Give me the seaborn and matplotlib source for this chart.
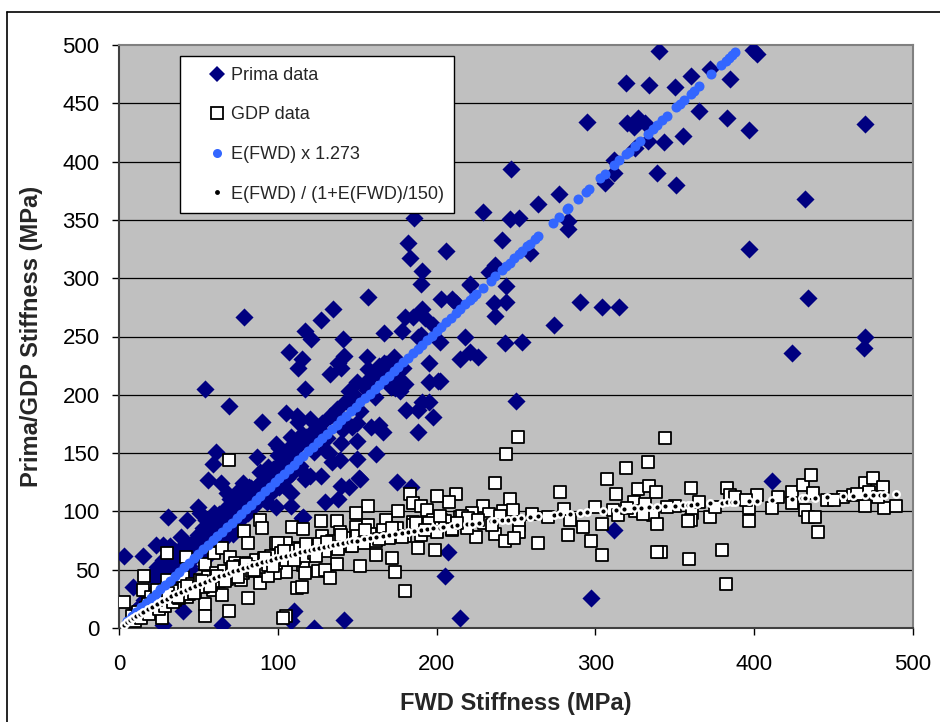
import matplotlib
matplotlib.use("Agg")
import matplotlib.pyplot as plt
import seaborn as sns
from matplotlib.lines import Line2D

# ---------------- data ----------------
prima_fwd = [340, 399, 402, 319, 334, 350, 360, 372, 385, 365, 383, 397, 470, 295, 320, 324, 327, 331,
             333, 343, 355, 325, 312, 312, 339, 351, 306, 247, 277, 264, 283, 283, 229, 246, 252, 241,
             206, 259, 233, 237, 221, 244, 203, 210, 212, 236, 244, 237, 290, 304, 315, 274, 218, 243,
             254, 221, 215, 226, 202, 250, 432, 397, 434, 424, 470, 469, 411, 312, 297,
             186, 182, 183, 191, 190, 157, 79, 135, 127, 117, 121, 141, 107, 115, 113, 142, 138, 140,
             133, 54, 69, 117, 156, 157, 167, 178, 180, 185, 191, 193, 188, 202, 164, 167, 172, 177,
             180, 150, 156, 145, 174, 177, 195, 195, 201, 191, 195, 181, 188, 198, 188, 221, 190, 198,
             179, 171,
             90, 105, 112, 113, 120, 115, 99, 101, 108, 109, 127, 139, 142, 147, 150, 159, 164, 166,
             150, 140, 139, 130, 132, 134, 150, 162, 61, 59, 87, 89, 93, 97, 103, 106, 109, 114, 117,
             120, 127, 103, 108, 56, 64, 68, 70, 74, 78, 82, 80, 87, 93, 99, 130, 138, 116, 50, 51,
             60, 66, 70, 74, 55, 57, 62, 66, 71, 72, 67, 31, 43, 39, 48, 23, 28, 32, 3, 15, 9, 26, 29,
             32, 37, 38, 45, 21, 40, 28, 65, 110, 108, 123, 142, 215, 207, 205, 175, 184, 152, 145,
             140, 151, 115, 108,
             10, 12, 14, 16, 18, 20, 22, 24, 25, 27, 30, 33, 34, 36, 38, 41, 42, 44, 46, 48, 50, 52,
             55, 57, 60, 62, 64, 66, 68, 71, 73, 76, 78, 81, 83, 85, 88, 91, 93, 96, 98, 101, 104, 106,
             111, 114, 119, 123, 126, 131, 136, 141, 146, 152, 156, 161, 166, 171, 176,
             20, 24, 28, 33, 35, 40, 44, 47, 50, 53, 58, 35, 45, 55, 60, 65,
             26, 30, 34, 38, 42, 46, 49, 53, 57, 61, 63, 67, 69, 73, 77, 79, 84, 86, 89, 92, 95, 97,
             100, 102, 105, 107, 110, 112, 116, 118, 121, 124, 128, 133, 137, 143, 148, 154, 158, 163,
             168, 173, 44, 52, 58, 63, 75, 83, 94, 100]
prima_stiff = [495, 496, 492, 467, 466, 464, 473, 479, 471, 443, 437, 427, 432, 434, 433, 430, 437, 433,
               418, 417, 422, 412, 401, 390, 390, 380, 382, 394, 372, 364, 349, 342, 357, 351, 352, 333,
               323, 322, 305, 311, 295, 293, 282, 282, 279, 279, 280, 268, 280, 275, 275, 260, 250, 244,
               245, 237, 231, 232, 212, 195, 368, 325, 283, 236, 250, 240, 126, 84, 26,
               352, 330, 317, 306, 295, 284, 267, 274, 264, 255, 248, 248, 237, 231, 223, 233, 227, 223,
               218, 205, 190, 205, 232, 222, 253, 255, 267, 267, 274, 266, 250, 245, 225, 227, 213, 213,
               209, 211, 210, 203, 206, 203, 227, 211, 212, 194, 194, 187, 187, 181, 168, 294, 251, 260,
               223, 224,
               177, 184, 182, 177, 179, 166, 158, 154, 164, 157, 164, 172, 178, 172, 176, 172, 174, 168,
               160, 159, 144, 153, 150, 142, 145, 149, 151, 141, 147, 134, 131, 135, 142, 140, 133, 136,
               128, 130, 130, 123, 116, 127, 124, 116, 111, 117, 124, 121, 112, 112, 108, 104, 108, 111,
               95, 104, 99, 99, 101, 98, 101, 93, 87, 90, 86, 87, 81, 78, 95, 93, 78, 71, 71, 71, 70, 62,
               62, 35, 52, 48, 47, 56, 50, 51, 44, 15, 3, 3, 15, 6, 0, 7, 9, 65, 45, 125, 121, 128, 121,
               122, 129, 94, 105,
               15, 12, 20, 24, 19, 29, 31, 27, 36, 39, 43, 38, 49, 45, 56, 51, 61, 53, 59, 66, 72, 63,
               80, 73, 86, 77, 91, 83, 96, 89, 103, 93, 106, 99, 113, 105, 119, 111, 125, 116, 131, 121,
               137, 129, 146, 139, 161, 151, 171, 163, 181, 171, 191, 186, 204, 198, 214, 207, 226,
               45, 52, 58, 62, 66, 70, 66, 75, 80, 86, 92, 40, 40, 60, 70, 75,
               42, 48, 52, 58, 63, 68, 72, 77, 82, 87, 90, 94, 98, 103, 108, 110, 118, 121, 124, 128,
               132, 136, 139, 142, 146, 149, 153, 156, 160, 164, 167, 171, 176, 182, 188, 195, 200, 208,
               214, 220, 226, 232, 68, 78, 85, 98, 110, 120, 138, 148]

gdp_fwd = [344, 360, 383, 385, 388, 402, 397, 411, 424, 424, 431, 436, 437, 446, 432, 434, 438, 440,
           456, 462, 470, 475, 472, 470, 481, 482, 489, 350, 361, 360, 372, 397, 380, 359, 382, 341,
           251, 244, 319, 333, 307, 237, 278, 313, 327, 334, 338, 212, 208, 229, 246, 222, 215, 233,
           242, 248, 252, 252, 237, 225, 243, 249, 264, 219, 210, 284, 292, 283, 297, 304, 311, 314,
           304, 324, 325, 331, 336, 339, 339, 358,
           183, 185, 190, 194, 200, 157, 149, 176, 127, 137, 109, 116, 149, 157, 168, 185, 198, 203,
           216, 128, 139, 99, 105, 113, 122, 132, 188, 199, 162, 172, 152, 174, 180, 137, 116, 105,
           117, 125, 130, 133, 112, 115, 105, 98,
           69, 3, 30, 16, 15, 20, 24, 27, 54, 54, 69, 81, 42, 54, 60, 65, 70, 79, 89, 90, 81, 73, 77,
           89, 94, 100, 30, 40, 49, 59, 65, 35, 43, 103,
           8, 10, 12, 14, 17, 19, 22, 25, 27, 29, 32, 34, 36, 38, 41, 44, 46, 48, 51, 53, 56, 58, 61,
           63, 66, 68, 71, 74, 76, 78, 81, 84, 86, 88, 91, 94, 96, 99, 102, 105, 108, 111, 114, 117,
           120, 123, 126, 130, 134, 138, 142, 146, 150, 154, 158, 162, 166, 170, 175, 180, 185, 190,
           195, 200, 205, 210, 220, 230, 240, 260, 270, 280, 300, 320, 330, 345, 365, 375, 395, 415,
           450, 465, 478,
           18, 23, 31, 37, 43, 47, 52, 57, 62, 67, 72, 75, 80, 85, 92, 97, 104, 110, 118, 124, 131,
           140, 147, 155, 164, 172, 178, 187, 193, 202, 213, 226, 235]
gdp_stiff = [163, 120, 120, 114, 112, 114, 103, 103, 117, 107, 123, 131, 116, 110, 101, 95, 95, 82,
             112, 114, 124, 129, 117, 105, 121, 103, 105, 105, 99, 93, 95, 92, 67, 59, 38, 65,
             164, 149, 137, 142, 128, 124, 117, 115, 119, 122, 117, 115, 108, 105, 111, 99, 95, 98,
             100, 101, 88, 82, 81, 78, 75, 77, 73, 86, 84, 93, 87, 80, 75, 89, 101, 97,
             63, 108, 100, 106, 97, 89, 65, 92,
             115, 107, 105, 101, 113, 105, 99, 100, 92, 92, 87, 85, 87, 88, 93, 91, 93, 93,
             96, 79, 82, 73, 73, 69, 69, 69, 69, 67, 63, 60, 53, 48, 32, 55, 54, 48,
             47, 49, 50, 43, 34, 35, 10, 47,
             144, 22, 64, 45, 33, 27, 33, 9, 21, 10, 15, 26, 61, 55, 64, 69, 61, 83, 93, 86, 73, 56, 41,
             39, 45, 73, 41, 44, 37, 33, 28, 24, 27, 9,
             10, 6, 14, 9, 17, 12, 20, 16, 25, 19, 28, 22, 32, 26, 34, 29, 38, 31, 41, 35, 44, 37, 47,
             40, 49, 42, 51, 45, 53, 47, 56, 49, 58, 52, 60, 54, 62, 56, 64, 58, 66, 60, 68, 62,
             70, 64, 72, 66, 75, 68, 77, 70, 79, 73, 81, 75, 84, 77, 86, 79, 88, 80,
             90, 82, 92, 85, 94, 90, 96, 98, 95, 102, 104, 103, 98, 104, 108, 104, 110, 112,
             110, 115, 112,
             21, 24, 30, 27, 36, 30, 40, 36, 45, 40, 52, 44, 55, 50, 60, 53, 66, 58, 72, 62, 74,
             80, 70, 84, 76, 86, 78, 90, 84, 96, 90, 93, 88]

lin_fwd = [5, 8, 11, 14, 17, 20, 23, 26, 29, 32, 35, 38, 41, 44, 47, 50, 53, 56, 59, 62, 65, 68, 71, 74,
           77, 80, 83, 86, 89, 92, 95, 98, 101, 104, 107, 110, 113, 116, 119, 122, 125, 128, 131, 134,
           137, 140, 143, 146, 149, 152, 155, 158, 161, 164, 167, 170, 173, 176, 179, 182, 185, 188,
           191, 194, 197, 200, 203, 206, 209, 212, 215, 218, 221, 223, 225, 229, 234, 237, 241, 244,
           246, 249, 252, 254, 257, 259, 262, 264, 273, 277, 282, 283, 289, 294, 296, 303, 306, 312,
           315, 319, 321, 325, 328, 333, 336, 339, 342, 345, 351, 353, 356, 360, 362, 365, 373, 379,
           382, 384, 386, 388]
lin_stiff = [6.4, 10.2, 14.0, 17.8, 21.6, 25.5, 29.3, 33.1, 36.9, 40.7, 44.6, 48.4, 52.2, 56.0, 59.8,
             63.7, 67.5, 71.3, 75.1, 78.9, 82.7, 86.6, 90.4, 94.2, 98.0, 101.8, 105.7, 109.5, 113.3,
             117.1, 120.9, 124.8, 128.6, 132.4, 136.2, 140.0, 143.8, 147.7, 151.5, 155.3, 159.1, 162.9,
             166.8, 170.6, 174.4, 178.2, 182.0, 185.9, 189.7, 193.5, 197.3, 201.1, 205.0, 208.8, 212.6,
             216.4, 220.2, 224.0, 227.9, 231.7, 235.5, 239.3, 243.1, 247.0, 250.8, 254.6, 258.4, 262.2,
             266.1, 269.9, 273.7, 277.5, 281.3, 283.9, 286.4, 291.5, 297.9, 301.7, 306.8, 310.6, 313.2,
             317.0, 320.8, 323.3, 327.2, 329.7, 333.5, 336.1, 347.5, 352.6, 359.0, 360.3, 367.9, 374.3,
             376.8, 385.7, 389.5, 397.2, 401.0, 406.1, 408.6, 413.7, 417.5, 423.9, 427.7, 431.5, 435.4,
             439.2, 446.8, 449.4, 453.2, 458.3, 460.8, 464.6, 474.8, 482.5, 486.3, 488.8, 491.4, 493.9]

hyp_fwd = [3, 5, 7, 9, 11, 13, 15, 18, 21, 24, 27, 30, 33, 36, 39, 42, 45, 48, 51, 54, 57, 60, 63, 66,
           69, 72, 75, 78, 81, 84, 87, 90, 93, 96, 99, 102, 105, 108, 111, 114, 117, 120, 123, 126, 129,
           132, 135, 138, 141, 144, 147, 150, 154, 158, 162, 166, 170, 174, 178, 182, 186, 190, 194, 198,
           202, 204, 210, 213, 219, 222, 227, 234, 236, 241, 245, 249, 253, 259, 264, 274, 278, 284, 290,
           295, 305, 313, 318, 324, 329, 334, 339, 344, 350, 355, 358, 360, 364, 372, 380, 383, 386, 388,
           397, 402, 411, 424, 430, 432, 438, 446, 456, 462, 470, 475, 479, 482, 489]
hyp_stiff = [2.94, 4.84, 6.69, 8.49, 10.25, 11.96, 13.64, 16.07, 18.42, 20.69, 22.88, 25.0, 27.05, 29.03,
             30.95, 32.81, 34.62, 36.36, 38.06, 39.71, 41.30, 42.86, 44.37, 45.83, 47.26, 48.65, 50.0,
             51.32, 52.60, 53.85, 55.06, 56.25, 57.41, 58.54, 59.64, 60.71, 61.76, 62.79, 63.79, 64.77,
             65.73, 66.67, 67.58, 68.48, 69.35, 70.21, 71.05, 71.88, 72.68, 73.47, 74.24, 75.0, 75.99,
             76.95, 77.88, 78.80, 79.69, 80.56, 81.40, 82.23, 83.04, 83.82, 84.59, 85.34,
             86.08, 86.44, 87.5, 88.02, 89.02, 89.52, 90.32, 91.41, 91.71, 92.46, 93.04, 93.61, 94.17,
             94.99, 95.65, 96.93, 97.43, 98.16, 98.86, 99.44, 100.55, 101.40, 101.92, 102.53, 103.03,
             103.51, 103.99, 104.45, 105.0, 105.45, 105.71, 105.88, 106.23, 106.90, 107.55, 107.79,
             108.02, 108.18, 108.87, 109.24, 109.89, 110.80, 111.21, 111.34, 111.73, 112.25, 112.87,
             113.24, 113.71, 114.0, 114.23, 114.40, 114.79]

series_labels = ["Prima data", "GDP data", "E(FWD) x 1.273", "E(FWD) / (1+E(FWD)/150)"]
x_ticks = [0, 100, 200, 300, 400, 500]
y_ticks = [0, 50, 100, 150, 200, 250, 300, 350, 400, 450, 500]
x_title = "FWD Stiffness (MPa)"
y_title = "Prima/GDP Stiffness (MPa)"

# ---------------- style ----------------
sns.set_theme(style="white")
plt.rcParams["font.family"] = ["Liberation Sans", "DejaVu Sans"]

NAVY = "#000080"
BLUE = "#3366FF"

fig = plt.figure(figsize=(9.4, 7.22), dpi=100)
fig.patch.set_facecolor("white")
ax = fig.add_axes([119 / 940, 94 / 722, 794 / 940, 583 / 722])
ax.set_facecolor("#C0C0C0")

sns.scatterplot(x=prima_fwd, y=prima_stiff, marker="D", color=NAVY, s=85, linewidth=0,
                ax=ax, legend=False, zorder=3)
sns.scatterplot(x=gdp_fwd, y=gdp_stiff, marker="s", color="white", edgecolor="black", s=78,
                linewidth=1.3, ax=ax, legend=False, zorder=4)
sns.scatterplot(x=lin_fwd, y=lin_stiff, marker="o", color=BLUE, s=52, linewidth=0,
                ax=ax, legend=False, zorder=5)
sns.scatterplot(x=hyp_fwd, y=hyp_stiff, marker="o", color="black", edgecolor="white", s=22,
                linewidth=1.7, ax=ax, legend=False, zorder=6)

ax.set_xlim(0, 500)
ax.set_ylim(0, 500)
ax.set_xticks(x_ticks)
ax.set_yticks(y_ticks)
ax.set_xticklabels([str(v) for v in x_ticks])
ax.set_yticklabels([str(v) for v in y_ticks])
ax.tick_params(axis="both", which="major", labelsize=16, colors="black", direction="out",
               length=5, width=1)
ax.tick_params(axis="x", pad=14, bottom=True)
ax.tick_params(axis="y", pad=9, left=True)

for yv in y_ticks[1:-1]:
    ax.axhline(yv, color="black", linewidth=0.9, zorder=1)

ax.spines["left"].set_color("#404040")
ax.spines["bottom"].set_color("#404040")
ax.spines["top"].set_color("#808080")
ax.spines["right"].set_color("#808080")
for sp in ax.spines.values():
    sp.set_linewidth(1.5)

ax.set_xlabel(x_title, fontsize=17, fontweight="bold", labelpad=12)
ax.set_ylabel(y_title, fontsize=17, fontweight="bold", labelpad=14)

handles = [
    Line2D([], [], linestyle="none", marker="D", color=NAVY, markersize=8, markeredgewidth=0),
    Line2D([], [], linestyle="none", marker="s", markerfacecolor="white", markeredgecolor="black",
           markersize=8, markeredgewidth=1.3),
    Line2D([], [], linestyle="none", marker="o", color=BLUE, markersize=6.5, markeredgewidth=0),
    Line2D([], [], linestyle="none", marker="o", color="black", markersize=3.5, markeredgewidth=0),
]
leg = ax.legend(handles, series_labels, loc="upper left", bbox_to_anchor=(61 / 794, 572 / 583),
                borderaxespad=0, fontsize=13, frameon=True, fancybox=False, framealpha=1,
                edgecolor="black", facecolor="white", labelspacing=1.25, borderpad=0.6,
                handlelength=2.9, handletextpad=-0.7)
leg.get_frame().set_linewidth(1.0)
leg.set_zorder(10)

# outer chart border (left and top edges visible)
fig.add_artist(Line2D([7 / 940, 7 / 940], [0, 1 - 12 / 722], transform=fig.transFigure,
                      color="black", linewidth=1.2))
fig.add_artist(Line2D([7 / 940, 1], [1 - 12 / 722, 1 - 12 / 722], transform=fig.transFigure,
                      color="black", linewidth=1.2))

fig.savefig("out.png", dpi=100)
